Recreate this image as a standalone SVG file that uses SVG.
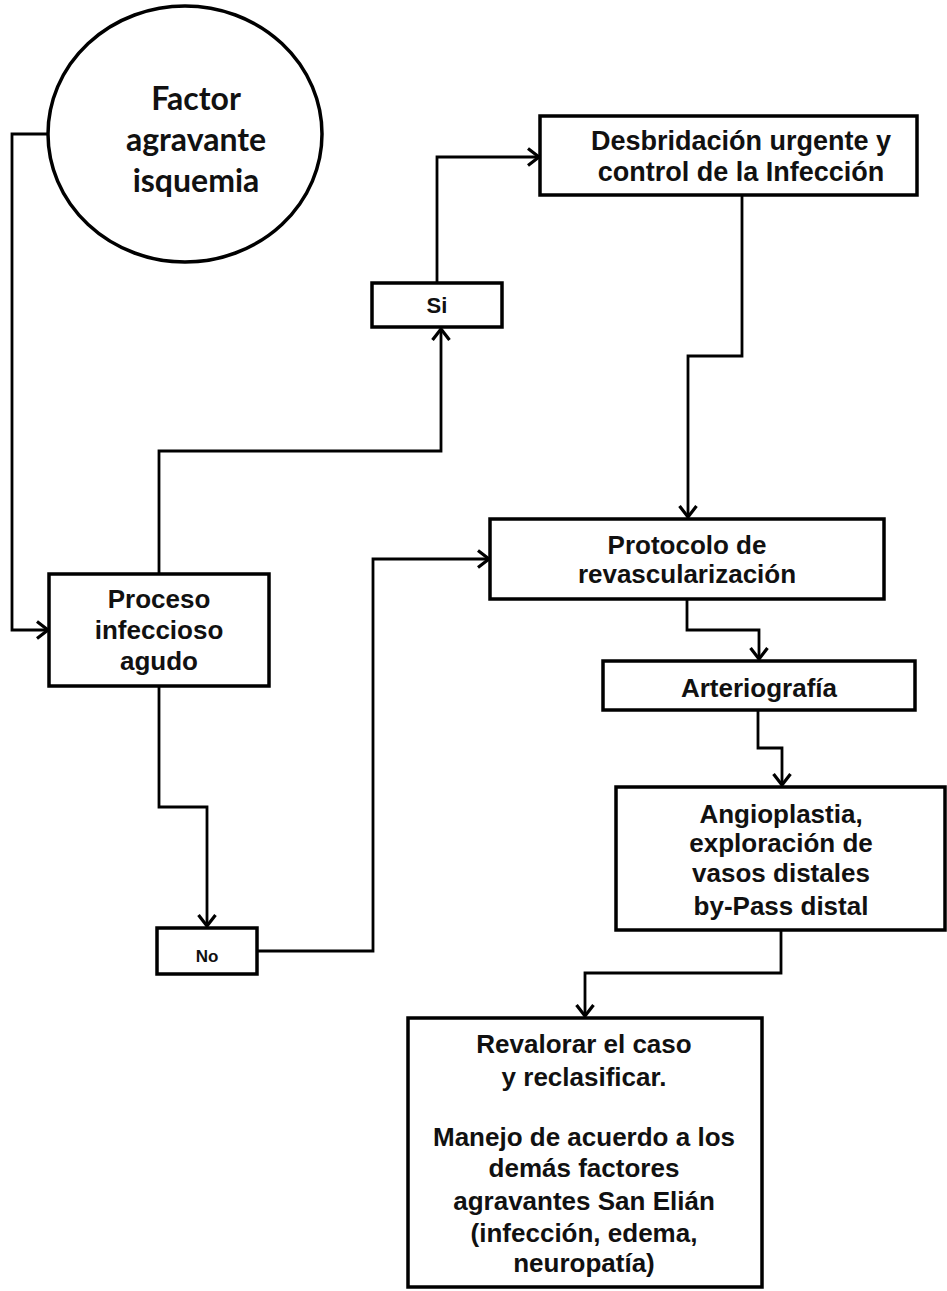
<svg xmlns="http://www.w3.org/2000/svg" width="947" height="1291" viewBox="0 0 947 1291">
<style>
.box{fill:#fff;stroke:#000;stroke-width:3.5}
.t{font-family:"Liberation Sans",Arial,sans-serif;font-weight:bold;font-size:26px;fill:#111;text-anchor:middle}
.e{font-family:Lato,"Liberation Sans",sans-serif;font-weight:bold;font-size:32px;fill:#111;text-anchor:middle}
.c{fill:none;stroke:#000;stroke-width:2.8}
</style>
<defs>
<marker id="arr" viewBox="0 0 13 20" refX="12" refY="10" markerWidth="13" markerHeight="20" markerUnits="userSpaceOnUse" orient="auto">
<path d="M1,1.5 L12,10 L1,18.5" fill="none" stroke="#000" stroke-width="3.2"/>
</marker>
</defs>
<rect width="947" height="1291" fill="#fff"/>
<g id="connectors">
<path class="c" d="M48,134 H12 V630 H48" marker-end="url(#arr)"/>
<path class="c" d="M159,574 V451 H441 V329" marker-end="url(#arr)"/>
<path class="c" d="M437,283 V157 H539" marker-end="url(#arr)"/>
<path class="c" d="M742,196 V356 H688 V517" marker-end="url(#arr)"/>
<path class="c" d="M159,686 V807 H207 V926" marker-end="url(#arr)"/>
<path class="c" d="M257,951 H373 V559 H489" marker-end="url(#arr)"/>
<path class="c" d="M687,600 V630 H759 V659" marker-end="url(#arr)"/>
<path class="c" d="M758,710 V748 H782 V785" marker-end="url(#arr)"/>
<path class="c" d="M781,931 V973 H585 V1016" marker-end="url(#arr)"/>
</g>
<g id="factor">
<ellipse cx="185" cy="134" rx="137" ry="128" fill="#fff" stroke="#000" stroke-width="3.5"/>
<text class="e" x="196" y="110">Factor</text>
<text class="e" x="196" y="151">agravante</text>
<text class="e" x="196" y="192">isquemia</text>
</g>
<g id="proceso">
<rect class="box" x="49" y="574" width="220" height="112"/>
<text class="t" x="159" y="608">Proceso</text>
<text class="t" x="159" y="639">infeccioso</text>
<text class="t" x="159" y="670">agudo</text>
</g>
<g id="si">
<rect class="box" x="372" y="283" width="130" height="44"/>
<text class="t" x="437" y="313" style="font-size:22px">Si</text>
</g>
<g id="no">
<rect class="box" x="157" y="928" width="100" height="46"/>
<text class="t" x="207" y="962" style="font-size:17px">No</text>
</g>
<g id="desbridacion">
<rect class="box" x="540" y="116" width="377" height="79"/>
<text class="t" x="741" y="150" style="font-size:27px">Desbridación urgente y</text>
<text class="t" x="741" y="181" style="font-size:27px">control de la Infección</text>
</g>
<g id="protocolo">
<rect class="box" x="490" y="519" width="394" height="80"/>
<text class="t" x="687" y="554">Protocolo de</text>
<text class="t" x="687" y="583">revascularización</text>
</g>
<g id="arteriografia">
<rect class="box" x="603" y="661" width="312" height="49"/>
<text class="t" x="759" y="697">Arteriografía</text>
</g>
<g id="angioplastia">
<rect class="box" x="616" y="787" width="329" height="143"/>
<text class="t" x="781" y="823">Angioplastia,</text>
<text class="t" x="781" y="852">exploración de</text>
<text class="t" x="781" y="882">vasos distales</text>
<text class="t" x="781" y="915">by-Pass distal</text>
</g>
<g id="revalorar">
<rect class="box" x="408" y="1018" width="354" height="269"/>
<text class="t" x="584" y="1053">Revalorar el caso</text>
<text class="t" x="584" y="1086">y reclasificar.</text>
<text class="t" x="584" y="1146">Manejo de acuerdo a los</text>
<text class="t" x="584" y="1177">demás factores</text>
<text class="t" x="584" y="1210">agravantes San Elián</text>
<text class="t" x="584" y="1242">(infección, edema,</text>
<text class="t" x="584" y="1272">neuropatía)</text>
</g>
</svg>
